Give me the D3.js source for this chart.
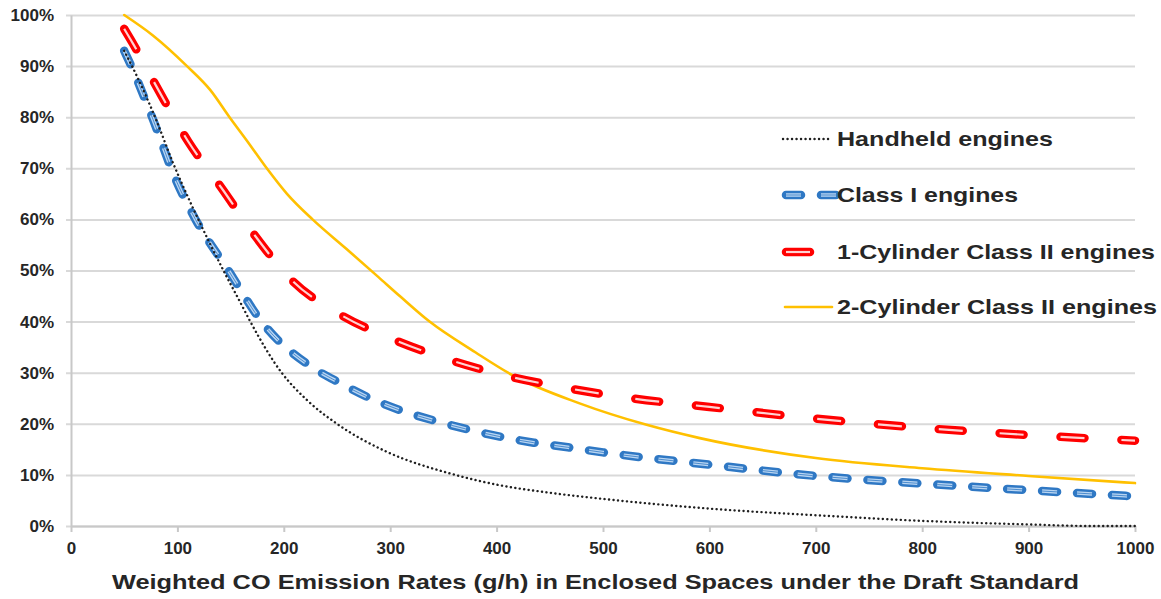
<!DOCTYPE html>
<html>
<head>
<meta charset="utf-8">
<script src="https://cdn.jsdelivr.net/npm/d3@7"></script>
<style>
  body { margin: 0; background: #fff; }
  svg text { font-family: "Liberation Sans", Arial, sans-serif; font-weight: bold; fill: #262626; }
</style>
</head>
<body>
<svg id="chart" width="1161" height="599"></svg>
<script>
// values (x = g/h, y = percent)
const handheld = [[50,93],[62,88],[80,79.5],[96,71],[114,62.5],[130,55.5],[145,49.3],[159,43.8],[168,40.2],[198,30],[222,24.6],[250,20],[297,14.5],[356,10.3],[400,8.1],[450,6.5],[500,5.3],[600,3.4],[700,2.1],[800,1],[900,0.3],[960,0],[1000,0]];
const classOne = [[50,93],[54,91.2],[77,79.6],[98,68],[117,60],[148,50],[178,40.3],[227,31],[250,28.3],[278,25.3],[309,22.7],[340,20.7],[371,19],[403,17.5],[435,16.3],[467,15.4],[500,14.4],[600,12],[700,9.8],[800,8.3],[900,7],[1000,5.8]];
const oneCylinder = [[50,97.3],[58,94.5],[83,85],[110,75.3],[142,66],[173,56.8],[208,48],[252,41.5],[303,36.5],[356,32.5],[411,29.3],[466,27],[523,25.1],[600,23.3],[700,21],[800,19.2],[900,17.8],[1000,16.7]];
const twoCylinder = [[50,100],[77,96],[109,90],[131,85.3],[149,80],[165,75.5],[184,70],[203,65],[227,60],[259,54.2],[289,48.7],[309,45],[337,40],[380,34],[415,29.5],[478,24],[541,19.8],[591,17.2],[700,13.3],[800,11.3],[900,9.8],[1000,8.4]];

const seriesNames = ["Handheld engines", "Class I engines", "1-Cylinder Class II engines", "2-Cylinder Class II engines"];
const xTicks = [0,100,200,300,400,500,600,700,800,900,1000];
const yTicks = [0,10,20,30,40,50,60,70,80,90,100];
const xTitle = "Weighted CO Emission Rates (g/h) in Enclosed Spaces under the Draft Standard";

const svg = d3.select("#chart");
const plotLeft = 71, plotRight = 1135, plotTop = 15, plotBottom = 526;
const plotW = plotRight - plotLeft;

const x = d3.scaleLinear().domain([0, 1000]).range([plotLeft, plotRight]);
const y = d3.scaleLinear().domain([0, 100]).range([plotBottom, plotTop]);

// gridlines
const grid = svg.append("g")
    .attr("transform", `translate(${plotLeft},0)`)
    .call(d3.axisLeft(y).tickValues(yTicks).tickSize(-plotW).tickFormat(""));
grid.select(".domain").remove();
grid.selectAll("line").attr("x1", -5).attr("stroke", "#d9d9d9").attr("stroke-width", 2);

// y axis labels + vertical axis line
const yAxis = svg.append("g")
    .attr("transform", `translate(${plotLeft},0)`)
    .call(d3.axisLeft(y).tickValues(yTicks).tickSize(0).tickPadding(17).tickFormat(d => d + "%"));
yAxis.select(".domain").attr("stroke", "#c8c8c8").attr("stroke-width", 2);
yAxis.selectAll("text").style("font-size", "17px").attr("font-family", null);

// x axis
const xAxis = svg.append("g")
    .attr("transform", `translate(0,${plotBottom})`)
    .call(d3.axisBottom(x).tickValues(xTicks).tickSize(6).tickPadding(10).tickSizeOuter(0).tickFormat(d3.format("d")));
xAxis.select(".domain").attr("stroke", "#c8c8c8").attr("stroke-width", 2);
xAxis.selectAll("line").attr("stroke", "#c8c8c8").attr("stroke-width", 2);
xAxis.selectAll("text").style("font-size", "17px").attr("font-family", null);

svg.append("text")
    .attr("x", 112).attr("y", 589)
    .attr("textLength", 967).attr("lengthAdjust", "spacingAndGlyphs")
    .style("font-size", "21px")
    .text(xTitle);

const line = d3.line().x(d => x(d[0])).y(d => y(d[1])).curve(d3.curveMonotoneX);

// styles for each series (legend order), drawn as stacked strokes
const styles = [
  [{ stroke: "#1f1f1f", width: 2.4, dash: "0.1 4.4", cap: "round" }],
  [{ stroke: "#2f78c4", width: 8.5, dash: "15 20", cap: "round" },
   { stroke: "#b9d5f2", width: 3.5, dash: "15 20", cap: "butt" },
   { stroke: "#2f78c4", width: 0.8, dash: "15 20", cap: "butt" }],
  [{ stroke: "#ff0000", width: 8.5, dash: "24 37", cap: "round" },
   { stroke: "#ffd2d2", width: 2.2, dash: "24 37", cap: "butt" }],
  [{ stroke: "#ffc000", width: 2.6, dash: null, cap: "round" }]
];
const allSeries = [handheld, classOne, oneCylinder, twoCylinder];

// draw back to front: yellow, red, blue, dotted
[3, 2, 1, 0].forEach(si => {
  styles[si].forEach(s => {
    svg.append("path")
      .datum(allSeries[si])
      .attr("d", line)
      .attr("fill", "none")
      .attr("stroke", s.stroke)
      .attr("stroke-width", s.width)
      .attr("stroke-dasharray", s.dash)
      .attr("stroke-linecap", s.cap)
      .attr("stroke-linejoin", "round");
  });
});

// legend
const legendY = [139, 195, 252, 307];
const legendLine = [[783, 829], [786, 836], [786, 811], [785, 832]];
const legendWidths = [216, 181, 318, 320];
seriesNames.forEach((name, i) => {
  styles[i].forEach(s => {
    svg.append("line")
      .attr("x1", legendLine[i][0]).attr("x2", legendLine[i][1])
      .attr("y1", legendY[i]).attr("y2", legendY[i])
      .attr("stroke", s.stroke)
      .attr("stroke-width", s.width)
      .attr("stroke-dasharray", s.dash)
      .attr("stroke-linecap", s.cap);
  });
  svg.append("text")
    .attr("x", 837).attr("y", legendY[i] + 7)
    .attr("textLength", legendWidths[i]).attr("lengthAdjust", "spacingAndGlyphs")
    .style("font-size", "21px")
    .text(name);
});
</script>
</body>
</html>
